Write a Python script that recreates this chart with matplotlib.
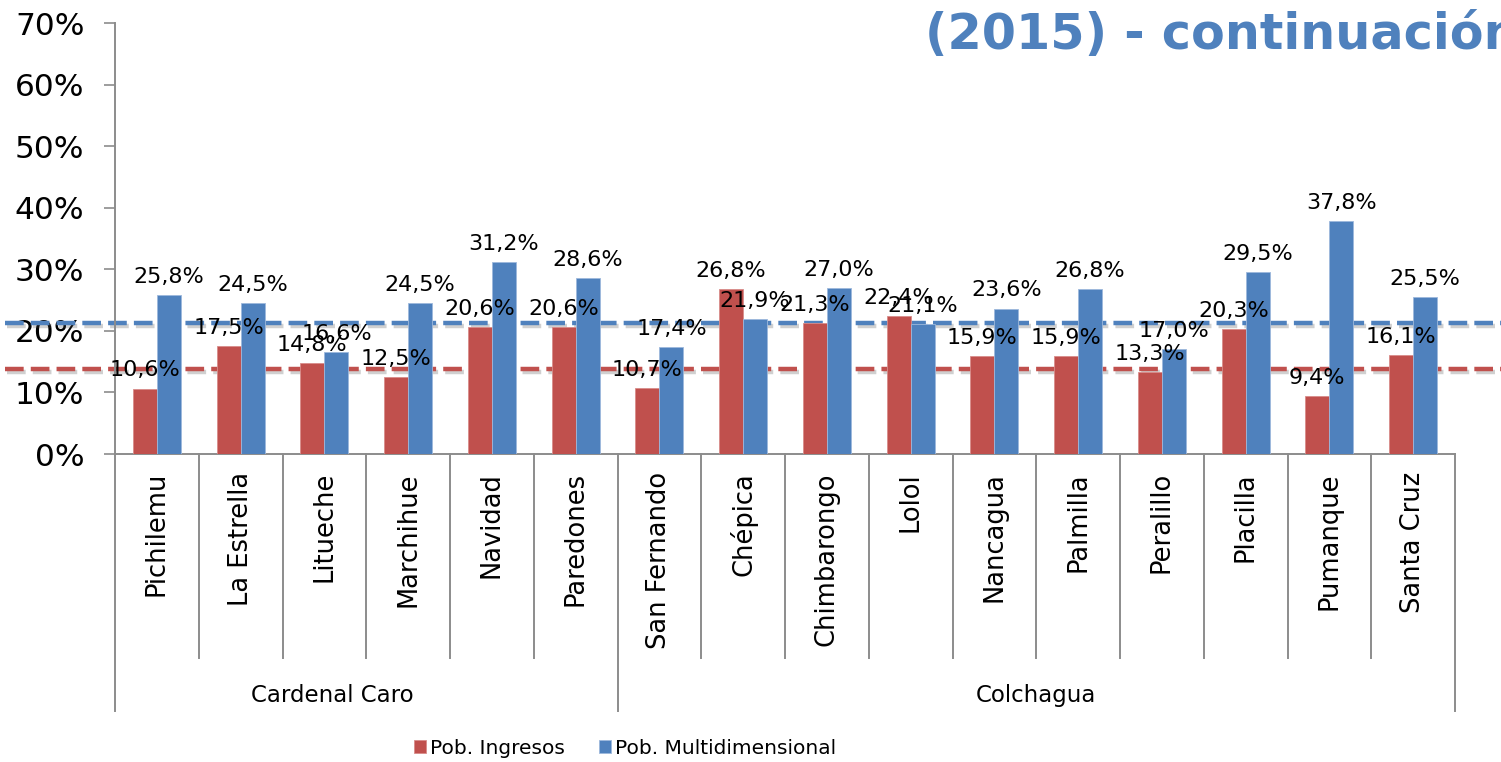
import matplotlib.pyplot as plt
import matplotlib.patheffects as pe
import numpy as np

# data
comunas = ['Pichilemu', 'La Estrella', 'Litueche', 'Marchihue', 'Navidad', 'Paredones',
           'San Fernando', 'Chépica', 'Chimbarongo', 'Lolol', 'Nancagua', 'Palmilla',
           'Peralillo', 'Placilla', 'Pumanque', 'Santa Cruz']
provincias = ['Cardenal Caro', 'Colchagua']
n_por_provincia = [6, 10]
pob_ingresos = [10.6, 17.5, 14.8, 12.5, 20.6, 20.6,
                10.7, 26.8, 21.3, 22.4, 15.9, 15.9, 13.3, 20.3, 9.4, 16.1]
pob_multi = [25.8, 24.5, 16.6, 24.5, 31.2, 28.6,
             17.4, 21.9, 27.0, 21.1, 23.6, 26.8, 17.0, 29.5, 37.8, 25.5]
ref_ingresos = 13.8   # linea regional (roja)
ref_multi = 21.3      # linea regional (azul)

ROJO = '#C0504D'
AZUL = '#4F81BD'
GRIS = '#8C8C8C'

fig = plt.figure(figsize=(15.01, 7.62), dpi=100)
ax = fig.add_axes([115/1501, 1-454/762, 1340/1501, 430.7/762])

x = np.arange(len(comunas))
w = 0.287
b1 = ax.bar(x - w/2, pob_ingresos, w, color=ROJO, edgecolor='#D98C8A', linewidth=0.6, zorder=3,
            label='Pob. Ingresos')
b2 = ax.bar(x + w/2, pob_multi, w, color=AZUL, edgecolor='#9DB8DC', linewidth=0.6, zorder=3,
            label='Pob. Multidimensional')

# etiquetas de datos con coma decimal
for bars, vals in ((b1, pob_ingresos), (b2, pob_multi)):
    for r, v in zip(bars, vals):
        ax.annotate(f'{v:.1f}%'.replace('.', ','), (r.get_x() + r.get_width()/2, v),
                    xytext=(0, 6), textcoords='offset points', ha='center', va='bottom',
                    fontsize=16, zorder=6, annotation_clip=False)

# lineas de referencia punteadas con sombra
sombra = [pe.SimpleLineShadow(offset=(1.5, -2), shadow_color='#444444', alpha=0.25),
          pe.Normal()]
for y, c in ((ref_multi, AZUL), (ref_ingresos, ROJO)):
    ax.axhline(y, xmin=-0.082, xmax=1.04, color=c, lw=3.2, dashes=(4.2, 1.6),
               clip_on=False, zorder=2, path_effects=sombra)

ax.set_xlim(-0.5, len(comunas) - 0.5)
ax.set_ylim(0, 70)
ax.set_yticks(range(0, 71, 10))
ax.set_yticklabels([f'{t}%' for t in range(0, 71, 10)], fontsize=22.5)
ax.tick_params(axis='y', length=8, width=1.2, color=GRIS, pad=14)
ax.set_xticks([])
for s in ('top', 'right'):
    ax.spines[s].set_visible(False)
for s in ('left', 'bottom'):
    ax.spines[s].set_color(GRIS)
    ax.spines[s].set_linewidth(1.4)

# eje de categorias de dos niveles
tr = ax.get_xaxis_transform()
limites_prov = np.cumsum([0] + n_por_provincia) - 0.5
for i in range(1, len(comunas)):
    xb = i - 0.5
    fondo = -0.597 if xb in limites_prov else -0.474
    ax.plot([xb, xb], [0, fondo], transform=tr, color=GRIS, lw=1.4, clip_on=False)
for xb in (limites_prov[0], limites_prov[-1]):
    ax.plot([xb, xb], [0, -0.597], transform=tr, color=GRIS, lw=1.4, clip_on=False)
for i, nombre in enumerate(comunas):
    ax.text(i, -0.042, nombre, transform=tr, rotation=90, ha='center', va='top',
            fontsize=18.5)
pos_prov = [2.09, (limites_prov[1] + limites_prov[2]) / 2]
for px, nombre in zip(pos_prov, provincias):
    ax.text(px, -0.56, nombre, transform=tr, ha='center', va='center', fontsize=16.5)

fig.legend(handles=[b1, b2], loc='center', bbox_to_anchor=(625/1501, 1-748/762),
           ncol=2, frameon=False, fontsize=14.5, handlelength=0.6, handleheight=0.6,
           handletextpad=0.2, columnspacing=1.7)

fig.text(925/1501, 1-35/762, '(2015) - continuación', fontsize=35.5, fontweight='bold',
         color=AZUL, ha='left', va='center')

fig.savefig('out.png', dpi=100)
